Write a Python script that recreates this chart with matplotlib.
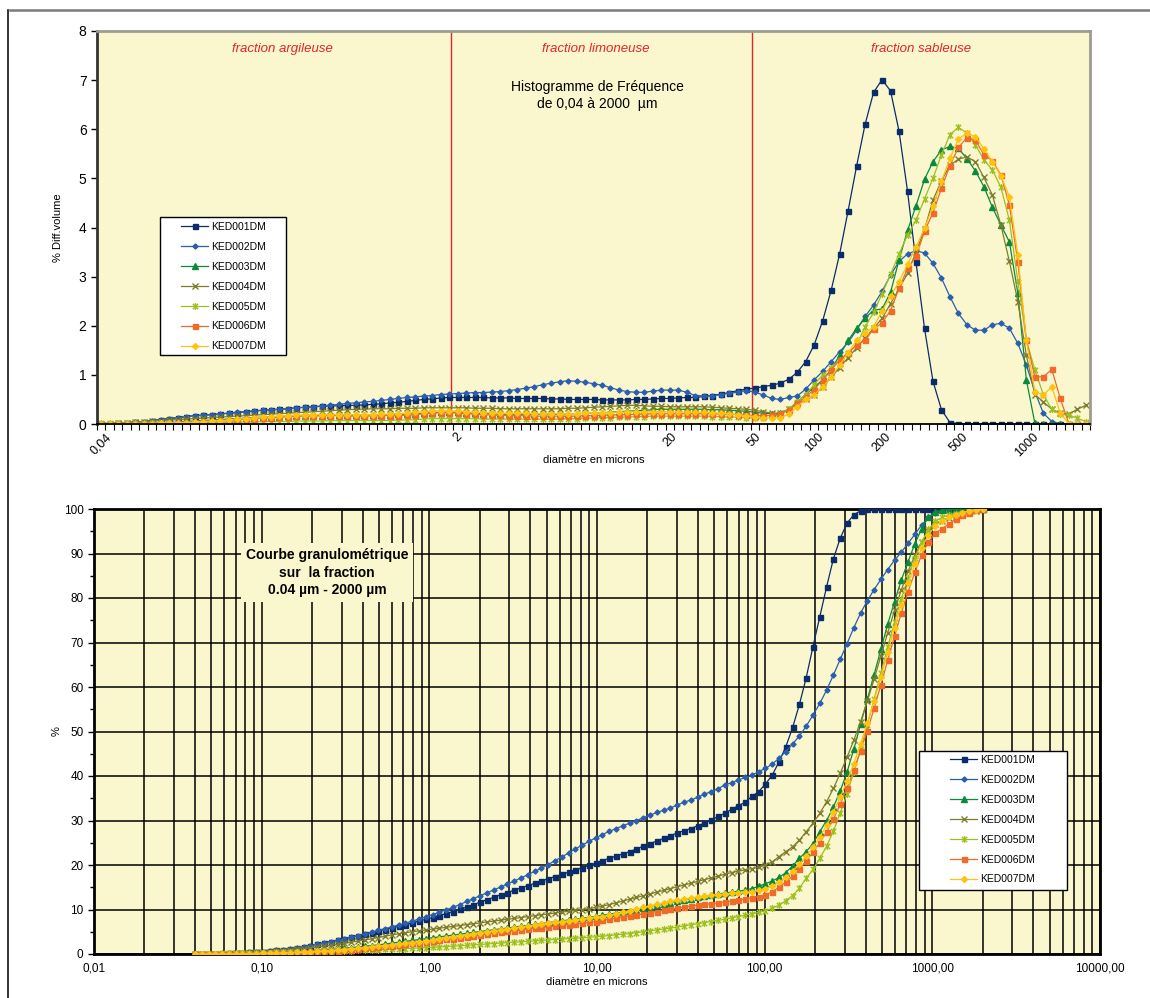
import numpy as np
import matplotlib
matplotlib.use('Agg')
import matplotlib.pyplot as plt
from matplotlib.path import Path
from matplotlib.lines import Line2D
from matplotlib.patches import Rectangle
from matplotlib.ticker import FixedLocator, NullFormatter, FuncFormatter, LogLocator

plt.rcParams['font.family'] = ['Liberation Sans', 'DejaVu Sans']

# 117 size classes of the laser granulometer, 0.04 -> 2000 microns (log spaced)
sizes_um = np.geomspace(0.04, 2000, 117)
categories = np.arange(117) + 0.5   # category positions on the top (Excel-like) axis

names = ['KED001DM', 'KED002DM', 'KED003DM', 'KED004DM', 'KED005DM', 'KED006DM', 'KED007DM']

# top chart: % differential volume per class
ked001_diff = [0.01, 0.01, 0.02, 0.03, 0.04, 0.05, 0.07, 0.09, 0.11, 0.13,
               0.15, 0.17, 0.18, 0.19, 0.20, 0.22, 0.23, 0.25, 0.26, 0.28,
               0.29, 0.30, 0.31, 0.33, 0.34, 0.35, 0.36, 0.37, 0.37, 0.38,
               0.38, 0.39, 0.40, 0.41, 0.43, 0.44, 0.46, 0.48, 0.50, 0.51,
               0.53, 0.54, 0.54, 0.54, 0.54, 0.54, 0.53, 0.53, 0.53, 0.52,
               0.52, 0.52, 0.52, 0.51, 0.51, 0.50, 0.50, 0.50, 0.50, 0.49,
               0.49, 0.49, 0.49, 0.50, 0.50, 0.51, 0.52, 0.52, 0.53, 0.54,
               0.54, 0.56, 0.58, 0.61, 0.64, 0.68, 0.71, 0.73, 0.76, 0.79,
               0.83, 0.91, 1.05, 1.27, 1.61, 2.10, 2.72, 3.46, 4.34, 5.25,
               6.10, 6.75, 7.01, 6.78, 5.96, 4.74, 3.29, 1.95, 0.87, 0.29,
               0.03, 0.01, 0, 0, 0, 0, 0, 0, 0, 0,
               0, 0, 0, 0, 0, 0, 0]
ked002_diff = [0.01, 0.01, 0.02, 0.03, 0.04, 0.05, 0.07, 0.09, 0.11, 0.13,
               0.15, 0.17, 0.18, 0.19, 0.21, 0.22, 0.24, 0.25, 0.27, 0.28,
               0.29, 0.30, 0.31, 0.33, 0.34, 0.35, 0.37, 0.38, 0.40, 0.42,
               0.43, 0.45, 0.46, 0.48, 0.50, 0.52, 0.54, 0.55, 0.57, 0.58,
               0.60, 0.61, 0.62, 0.63, 0.64, 0.64, 0.65, 0.66, 0.68, 0.70,
               0.73, 0.76, 0.80, 0.83, 0.86, 0.88, 0.87, 0.85, 0.82, 0.79,
               0.74, 0.69, 0.66, 0.645, 0.645, 0.67, 0.69, 0.69, 0.69, 0.645,
               0.58, 0.57, 0.57, 0.60, 0.625, 0.65, 0.68, 0.65, 0.59, 0.52,
               0.50, 0.54, 0.57, 0.71, 0.90, 1.07, 1.27, 1.47, 1.66, 1.91,
               2.19, 2.42, 2.70, 3.03, 3.31, 3.46, 3.53, 3.48, 3.27, 2.97,
               2.59, 2.25, 2.02, 1.91, 1.91, 2.02, 2.05, 1.95, 1.64, 1.20,
               0.66, 0.22, 0.05, 0.01, 0, 0, 0]
ked003_diff = [0, 0, 0, 0, 0.01, 0.01, 0.02, 0.03, 0.03, 0.04,
               0.05, 0.06, 0.07, 0.08, 0.09, 0.10, 0.11, 0.12, 0.13, 0.14,
               0.15, 0.15, 0.16, 0.16, 0.17, 0.17, 0.17, 0.18, 0.18, 0.18,
               0.18, 0.18, 0.19, 0.19, 0.19, 0.20, 0.20, 0.21, 0.22, 0.23,
               0.24, 0.24, 0.24, 0.23, 0.22, 0.21, 0.21, 0.20, 0.20, 0.20,
               0.20, 0.20, 0.20, 0.20, 0.20, 0.21, 0.21, 0.22, 0.22, 0.23,
               0.24, 0.25, 0.26, 0.27, 0.28, 0.29, 0.30, 0.30, 0.30, 0.30,
               0.30, 0.30, 0.29, 0.29, 0.28, 0.27, 0.26, 0.24, 0.22, 0.21,
               0.22, 0.30, 0.45, 0.60, 0.75, 0.90, 1.10, 1.40, 1.70, 1.95,
               2.15, 2.32, 2.34, 2.68, 3.34, 3.94, 4.44, 4.98, 5.34, 5.58,
               5.65, 5.61, 5.40, 5.15, 4.83, 4.41, 4.05, 3.71, 2.66, 0.90,
               0.02, 0, 0, 0, 0, 0, 0]
ked004_diff = [0.01, 0.01, 0.02, 0.03, 0.04, 0.05, 0.06, 0.07, 0.08, 0.09,
               0.10, 0.11, 0.12, 0.13, 0.14, 0.15, 0.16, 0.17, 0.18, 0.19,
               0.20, 0.21, 0.22, 0.23, 0.24, 0.25, 0.26, 0.27, 0.28, 0.29,
               0.30, 0.30, 0.31, 0.31, 0.31, 0.32, 0.32, 0.32, 0.33, 0.33,
               0.33, 0.33, 0.33, 0.33, 0.32, 0.32, 0.32, 0.31, 0.31, 0.31,
               0.31, 0.31, 0.31, 0.31, 0.31, 0.32, 0.32, 0.33, 0.34, 0.35,
               0.36, 0.37, 0.38, 0.38, 0.37, 0.36, 0.36, 0.35, 0.35, 0.35,
               0.35, 0.35, 0.34, 0.33, 0.32, 0.31, 0.30, 0.28, 0.25, 0.22,
               0.22, 0.30, 0.40, 0.50, 0.60, 0.75, 0.95, 1.15, 1.35, 1.55,
               1.75, 1.95, 2.15, 2.45, 2.75, 3.07, 3.50, 3.96, 4.56, 4.95,
               5.27, 5.39, 5.44, 5.34, 5.02, 4.66, 4.05, 3.31, 2.49, 1.40,
               0.60, 0.45, 0.30, 0.22, 0.20, 0.30, 0.38]
ked005_diff = [0.02, 0.02, 0.02, 0.02, 0.02, 0.02, 0.02, 0.02, 0.02, 0.02,
               0.02, 0.02, 0.03, 0.03, 0.03, 0.03, 0.04, 0.04, 0.04, 0.05,
               0.05, 0.05, 0.05, 0.06, 0.06, 0.06, 0.06, 0.07, 0.07, 0.07,
               0.07, 0.07, 0.07, 0.07, 0.07, 0.08, 0.08, 0.09, 0.10, 0.11,
               0.11, 0.11, 0.11, 0.11, 0.11, 0.10, 0.10, 0.10, 0.10, 0.10,
               0.10, 0.10, 0.10, 0.10, 0.10, 0.11, 0.11, 0.12, 0.12, 0.13,
               0.13, 0.14, 0.14, 0.15, 0.15, 0.16, 0.16, 0.16, 0.16, 0.16,
               0.16, 0.16, 0.15, 0.15, 0.14, 0.14, 0.13, 0.12, 0.12, 0.14,
               0.20, 0.30, 0.45, 0.60, 0.80, 1.00, 1.15, 1.30, 1.45, 1.61,
               1.98, 2.27, 2.65, 3.05, 3.46, 3.85, 4.15, 4.58, 5.00, 5.48,
               5.89, 6.04, 5.92, 5.68, 5.38, 5.17, 4.82, 4.15, 2.90, 1.71,
               1.10, 0.60, 0.30, 0.20, 0.18, 0.12, 0.05]
ked006_diff = [0.0, 0.0, 0.0, 0.0, 0.0, 0.0, 0.01, 0.01, 0.01, 0.02,
               0.02, 0.03, 0.04, 0.05, 0.06, 0.07, 0.08, 0.10, 0.11, 0.12,
               0.13, 0.14, 0.15, 0.16, 0.17, 0.17, 0.17, 0.17, 0.17, 0.16,
               0.16, 0.16, 0.16, 0.17, 0.17, 0.17, 0.18, 0.19, 0.21, 0.22,
               0.23, 0.23, 0.22, 0.21, 0.20, 0.19, 0.18, 0.18, 0.17, 0.17,
               0.17, 0.16, 0.16, 0.16, 0.16, 0.16, 0.16, 0.17, 0.17, 0.18,
               0.18, 0.19, 0.19, 0.20, 0.20, 0.21, 0.21, 0.21, 0.21, 0.21,
               0.21, 0.21, 0.21, 0.20, 0.20, 0.19, 0.18, 0.17, 0.17, 0.18,
               0.20, 0.28, 0.42, 0.55, 0.70, 0.90, 1.10, 1.30, 1.45, 1.60,
               1.71, 1.93, 2.06, 2.31, 2.76, 3.17, 3.41, 3.92, 4.30, 4.80,
               5.26, 5.63, 5.83, 5.78, 5.48, 5.36, 5.07, 4.46, 3.29, 1.71,
               0.96, 0.96, 1.11, 0.52, 0.01, 0.0, 0.0]
ked007_diff = [0.0, 0.0, 0.0, 0.0, 0.01, 0.01, 0.01, 0.02, 0.02, 0.03,
               0.03, 0.04, 0.05, 0.06, 0.07, 0.08, 0.10, 0.11, 0.12, 0.14,
               0.15, 0.16, 0.17, 0.18, 0.18, 0.19, 0.19, 0.19, 0.19, 0.19,
               0.19, 0.19, 0.19, 0.20, 0.20, 0.21, 0.22, 0.24, 0.25, 0.26,
               0.27, 0.27, 0.26, 0.25, 0.24, 0.23, 0.23, 0.22, 0.22, 0.22,
               0.22, 0.21, 0.21, 0.21, 0.21, 0.21, 0.21, 0.22, 0.22, 0.23,
               0.23, 0.24, 0.24, 0.25, 0.25, 0.25, 0.25, 0.25, 0.25, 0.24,
               0.24, 0.24, 0.23, 0.22, 0.21, 0.19, 0.17, 0.15, 0.13, 0.13,
               0.13, 0.20, 0.35, 0.50, 0.60, 0.75, 0.95, 1.20, 1.45, 1.70,
               1.85, 1.98, 2.30, 2.60, 2.90, 3.25, 3.60, 3.99, 4.43, 4.94,
               5.41, 5.80, 5.92, 5.85, 5.60, 5.34, 5.05, 4.63, 3.44, 1.71,
               0.66, 0.59, 0.76, 0.22, 0.01, 0.0, 0.0]

# bottom chart: cumulative %
ked001_cum = [0.0, 0.0, 0.0, 0.05, 0.1, 0.15, 0.2, 0.3, 0.35, 0.45,
              0.55, 0.65, 0.8, 0.95, 1.15, 1.4, 1.65, 1.9, 2.2, 2.5,
              2.8, 3.1, 3.45, 3.75, 4.1, 4.45, 4.8, 5.15, 5.5, 5.85,
              6.2, 6.6, 7.0, 7.4, 7.8, 8.2, 8.65, 9.1, 9.55, 10.05,
              10.55, 11.1, 11.65, 12.2, 12.75, 13.3, 13.8, 14.35, 14.85, 15.35,
              15.9, 16.4, 16.9, 17.4, 17.9, 18.4, 18.9, 19.4, 19.9, 20.45,
              21.0, 21.5, 22.0, 22.5, 23.0, 23.6, 24.2, 24.8, 25.4, 26.0,
              26.6, 27.2, 27.7, 28.2, 28.8, 29.4, 30.1, 30.9, 31.6, 32.5,
              33.3, 34.1, 35.4, 36.5, 38.2, 40.2, 43.2, 46.6, 50.9, 56.1,
              62.1, 69.1, 75.8, 82.5, 88.8, 93.4, 96.8, 98.7, 99.6, 99.9,
              100, 100, 100, 100, 100, 100, 100, 100, 100, 100,
              100, 100, 100, 100, 100, 100, 100]
ked002_cum = [0.0, 0.0, 0.0, 0.05, 0.1, 0.15, 0.2, 0.3, 0.35, 0.45,
              0.55, 0.65, 0.8, 0.95, 1.15, 1.4, 1.65, 1.9, 2.2, 2.5,
              2.8, 3.1, 3.45, 3.8, 4.15, 4.5, 4.9, 5.3, 5.7, 6.1,
              6.5, 6.95, 7.4, 7.85, 8.35, 8.85, 9.4, 9.95, 10.5, 11.1,
              11.8, 12.45, 13.1, 13.75, 14.4, 15.05, 15.7, 16.4, 17.1, 17.8,
              18.55, 19.3, 20.1, 20.95, 21.8, 22.7, 23.6, 24.45, 25.3, 26.1,
              26.85, 27.55, 28.2, 28.8, 29.4, 30.0, 30.6, 31.2, 31.8, 32.3,
              32.8, 33.5, 34.1, 34.6, 35.2, 35.9, 36.5, 37.1, 38.0, 38.5,
              39.1, 39.7, 40.2, 41.0, 41.7, 42.7, 44.0, 45.5, 47.2, 49.0,
              51.2, 53.7, 56.3, 59.3, 62.7, 66.2, 69.7, 73.3, 76.6, 79.4,
              81.9, 84.2, 86.4, 88.5, 90.3, 92.3, 94.3, 96.4, 98.1, 99.2,
              99.6, 99.9, 100, 100, 100, 100, 100]
ked003_cum = [0, 0, 0, 0, 0, 0.02, 0.05, 0.08, 0.1, 0.13,
              0.17, 0.22, 0.28, 0.35, 0.42, 0.5, 0.6, 0.7, 0.8, 0.9,
              1.0, 1.15, 1.3, 1.45, 1.6, 1.75, 1.9, 2.05, 2.25, 2.45,
              2.65, 2.85, 3.05, 3.25, 3.45, 3.65, 3.85, 4.05, 4.25, 4.45,
              4.65, 4.85, 5.05, 5.25, 5.45, 5.65, 5.85, 6.05, 6.25, 6.45,
              6.65, 6.85, 7.05, 7.25, 7.45, 7.65, 7.85, 8.05, 8.25, 8.45,
              8.7, 8.95, 9.2, 9.45, 9.7, 10.0, 10.3, 10.6, 10.9, 11.2,
              11.5, 11.8, 12.1, 12.4, 12.7, 13.0, 13.2, 13.45, 13.7, 13.9,
              14.1, 14.35, 14.7, 15.2, 15.8, 16.4, 17.2, 18.3, 19.8, 21.5,
              23.0, 24.8, 27.5, 30.0, 33.0, 36.6, 40.8, 46.0, 51.6, 57.2,
              62.8, 68.5, 74.1, 79.2, 84.0, 88.2, 92.2, 95.6, 98.2, 99.4,
              99.7, 99.8, 99.9, 100, 100, 100, 100]
ked004_cum = [0, 0, 0, 0.02, 0.05, 0.1, 0.15, 0.2, 0.27, 0.35,
              0.45, 0.55, 0.65, 0.78, 0.9, 1.05, 1.2, 1.35, 1.55, 1.75,
              1.95, 2.15, 2.4, 2.65, 2.9, 3.15, 3.4, 3.7, 4.0, 4.3,
              4.55, 4.8, 5.0, 5.2, 5.4, 5.6, 5.8, 6.0, 6.2, 6.4,
              6.6, 6.8, 7.0, 7.2, 7.4, 7.6, 7.8, 8.0, 8.2, 8.4,
              8.6, 8.8, 9.0, 9.2, 9.4, 9.6, 9.8, 10.0, 10.2, 10.45,
              10.75, 11.1, 11.5, 11.9, 12.3, 12.7, 13.1, 13.5, 13.9, 14.3,
              14.7, 15.1, 15.5, 15.9, 16.3, 16.7, 17.1, 17.5, 17.9, 18.3,
              18.6, 18.9, 19.2, 19.5, 20.0, 20.7, 21.9, 23.0, 24.1, 25.6,
              27.5, 29.4, 31.6, 34.2, 37.2, 40.6, 44.2, 48.0, 52.2, 56.8,
              61.8, 67.0, 72.2, 77.2, 81.8, 86.0, 89.6, 92.6, 95.0, 96.6,
              97.4, 98.0, 98.4, 98.8, 99.1, 99.5, 99.9]
ked005_cum = [0, 0.03, 0.06, 0.09, 0.12, 0.15, 0.18, 0.21, 0.24, 0.27,
              0.3, 0.33, 0.36, 0.39, 0.42, 0.45, 0.48, 0.52, 0.56, 0.6,
              0.64, 0.68, 0.72, 0.77, 0.82, 0.87, 0.92, 0.98, 1.04, 1.1,
              1.16, 1.22, 1.29, 1.36, 1.43, 1.5, 1.58, 1.66, 1.75, 1.85,
              1.95, 2.05, 2.15, 2.25, 2.35, 2.45, 2.55, 2.65, 2.75, 2.85,
              2.95, 3.05, 3.15, 3.25, 3.35, 3.45, 3.55, 3.65, 3.75, 3.87,
              4.0, 4.15, 4.3, 4.45, 4.6, 4.8, 5.0, 5.2, 5.4, 5.6,
              5.8, 6.05, 6.3, 6.55, 6.8, 7.05, 7.3, 7.55, 7.8, 8.1,
              8.4, 8.7, 9.0, 9.35, 9.7, 10.3, 11.0, 12.0, 13.1, 14.8,
              17.0, 19.0, 21.5, 24.2, 27.6, 31.6, 36.0, 40.8, 46.0, 51.5,
              57.3, 63.2, 69.0, 74.6, 79.8, 84.6, 88.9, 92.6, 95.4, 97.2,
              98.1, 98.6, 98.9, 99.2, 99.5, 99.8, 100]
ked006_cum = [0, 0, 0, 0, 0, 0, 0.02, 0.04, 0.06, 0.08,
              0.1, 0.13, 0.16, 0.2, 0.25, 0.3, 0.36, 0.43, 0.5, 0.58,
              0.67, 0.77, 0.88, 1.0, 1.13, 1.27, 1.42, 1.57, 1.72, 1.88,
              2.04, 2.2, 2.36, 2.52, 2.7, 2.88, 3.07, 3.27, 3.48, 3.7,
              3.92, 4.14, 4.35, 4.55, 4.74, 4.92, 5.1, 5.28, 5.45, 5.62,
              5.79, 5.95, 6.11, 6.27, 6.43, 6.6, 6.77, 6.94, 7.11, 7.29,
              7.55, 7.8, 8.05, 8.3, 8.55, 8.8, 9.05, 9.3, 9.55, 9.8,
              10.05, 10.3, 10.55, 10.75, 10.95, 11.15, 11.3, 11.5, 11.7, 11.9,
              12.1, 12.35, 12.6, 12.9, 13.3, 14.0, 15.0, 16.2, 17.5, 19.1,
              20.9, 22.9, 25.0, 27.4, 30.3, 33.6, 37.3, 41.3, 45.6, 50.2,
              55.2, 60.5, 66.0, 71.4, 76.6, 81.4, 85.8, 89.7, 92.6, 94.5,
              95.6, 96.6, 97.7, 98.6, 99.2, 99.7, 100]
ked007_cum = [0, 0, 0, 0, 0.01, 0.02, 0.04, 0.06, 0.08, 0.1,
              0.13, 0.16, 0.2, 0.25, 0.3, 0.36, 0.43, 0.5, 0.58, 0.67,
              0.77, 0.88, 1.0, 1.13, 1.27, 1.41, 1.56, 1.72, 1.88, 2.04,
              2.2, 2.37, 2.54, 2.72, 2.9, 3.1, 3.3, 3.52, 3.75, 3.99,
              4.24, 4.49, 4.74, 4.98, 5.21, 5.43, 5.65, 5.86, 6.07, 6.28,
              6.48, 6.68, 6.88, 7.08, 7.28, 7.48, 7.68, 7.88, 8.08, 8.3,
              8.4, 8.7, 9.05, 9.4, 9.75, 10.1, 10.45, 10.8, 11.15, 11.5,
              11.8, 12.1, 12.35, 12.6, 12.8, 13.0, 13.2, 13.35, 13.5, 13.65,
              13.75, 13.85, 14.0, 14.3, 14.7, 15.3, 16.1, 17.2, 18.6, 20.2,
              22.0, 24.0, 26.3, 28.9, 31.9, 35.2, 38.8, 42.8, 47.2, 51.9,
              56.9, 62.3, 67.8, 73.3, 78.5, 83.3, 87.6, 91.2, 94.2, 96.2,
              97.4, 98.1, 98.7, 99.2, 99.6, 99.8, 100]

diff_series = [ked001_diff, ked002_diff, ked003_diff, ked004_diff, ked005_diff, ked006_diff, ked007_diff]
cum_series = [ked001_cum, ked002_cum, ked003_cum, ked004_cum, ked005_cum, ked006_cum, ked007_cum]

top_tick_pos = [0.5, 42.5, 67.5, 77.5, 84.5, 92.5, 101.5, 109.5]
top_tick_lab = ['0,04', '2', '20', '50', '100', '200', '500', '1000']
fraction_limits = [41.7, 77.2]
bottom_ticks = [0.01, 0.1, 1, 10, 100, 1000, 10000]

# marker "star" like excel's : x with a vertical stroke
star = Path([(-1, -1), (1, 1), (-1, 1), (1, -1), (0, -1.3), (0, 1.3)],
            [Path.MOVETO, Path.LINETO, Path.MOVETO, Path.LINETO, Path.MOVETO, Path.LINETO])

styles = [
    dict(color='#0B2C6B', marker='s', ms=3.6, mfc='#0B2C6B', mec='#0B2C6B'),
    dict(color='#2B5EAE', marker='D', ms=2.6, mfc='#2B5EAE', mec='#2B5EAE'),
    dict(color='#0B8A3C', marker='^', ms=3.8, mfc='#0B8A3C', mec='#0B8A3C'),
    dict(color='#7F7D2C', marker='x', ms=4.6, mew=1.0, mec='#7F7D2C'),
    dict(color='#9DC01E', marker=star, ms=5.0, mew=1.0, mfc='none', mec='#9DC01E'),
    dict(color='#F06A28', marker='s', ms=3.6, mfc='#F06A28', mec='#F06A28'),
    dict(color='#FFC20E', marker='D', ms=3.0, mfc='#FFC20E', mec='#FFC20E'),
]

bg = '#FAF7CF'
red = '#E5232B'

fig = plt.figure(figsize=(11.5, 9.98), dpi=100)
fig.patch.set_facecolor('white')

# frame of the pasted object
fig.add_artist(Line2D([10 / 1150, 1.0], [1 - 10 / 998, 1 - 10 / 998], color='#7A7A7A', lw=1.8))
fig.add_artist(Line2D([8 / 1150, 8 / 1150], [0, 1 - 10 / 998], color='#111111', lw=1.2))


def boxed_legend(ax, box, anchor):
    # white legend box drawn by hand (Excel style, wide side margins)
    ax.add_patch(Rectangle(box[:2], box[2], box[3], transform=ax.transAxes, facecolor='white',
                           edgecolor='black', lw=1.0, zorder=6))
    leg = ax.legend(loc='upper left', bbox_to_anchor=anchor, fontsize=7.5, frameon=False,
                    handlelength=2.6, labelspacing=0.95, borderpad=0, handletextpad=0.3,
                    borderaxespad=0)
    leg.set_zorder(7)
    return leg


# ---------------- top: frequency histogram ----------------
ax1 = fig.add_axes([97 / 1150, 1 - 424 / 998, 993 / 1150, 393 / 998])
ax1.set_facecolor(bg)
for vals, name, st in zip(diff_series, names, styles):
    ax1.plot(categories, vals, lw=0.9, label=name, **st)

ax1.set_xlim(0, 117)
ax1.set_ylim(0, 8)
ax1.set_yticks(range(0, 9))
ax1.tick_params(axis='y', labelsize=10, length=4, width=1, direction='out')
ax1.xaxis.set_major_locator(FixedLocator(top_tick_pos))
ax1.set_xticklabels(top_tick_lab, rotation=45, fontsize=9)
ax1.xaxis.set_minor_locator(FixedLocator(np.arange(0, 118)))
ax1.tick_params(axis='x', which='major', length=0, pad=5)
ax1.tick_params(axis='x', which='minor', length=4, width=0.8, direction='out')

for s in ['top', 'right']:
    ax1.spines[s].set_color('#9C9C90')
    ax1.spines[s].set_linewidth(2)
ax1.spines['left'].set_color('#333333')
ax1.spines['left'].set_linewidth(2)
ax1.spines['bottom'].set_color('black')
ax1.spines['bottom'].set_linewidth(1.3)

for xl in fraction_limits:
    ax1.axvline(xl, color=red, lw=1.0, zorder=1)

ax1.text(0.187, 0.955, 'fraction argileuse', transform=ax1.transAxes, color=red,
         style='italic', fontsize=9.5, ha='center', va='center')
ax1.text(0.5025, 0.955, 'fraction limoneuse', transform=ax1.transAxes, color=red,
         style='italic', fontsize=9.5, ha='center', va='center')
ax1.text(0.830, 0.955, 'fraction sableuse', transform=ax1.transAxes, color=red,
         style='italic', fontsize=9.5, ha='center', va='center')
ax1.text(0.5035, 0.835, 'Histogramme de Fréquence\nde 0,04 à 2000  µm', transform=ax1.transAxes,
         fontsize=10, ha='center', va='center', linespacing=1.25)

ax1.set_xlabel('diamètre en microns', fontsize=8)
ax1.xaxis.set_label_coords(0.5, -0.078)
ax1.set_ylabel('% Diff.volume', fontsize=8)
ax1.yaxis.set_label_coords(-0.034, 0.5)

boxed_legend(ax1, (0.0634, 0.1756, 0.1269, 0.3511), (0.0846, 0.514))

# ---------------- bottom: cumulative curve ----------------
ax2 = fig.add_axes([94 / 1150, 1 - 954 / 998, 1006 / 1150, 445 / 998])
ax2.set_facecolor(bg)
ax2.set_axisbelow(True)
for vals, name, st in zip(cum_series, names, styles):
    ax2.plot(sizes_um, vals, lw=0.9, label=name, zorder=3, **st)

ax2.set_xscale('log')
ax2.set_xlim(0.01, 10000)
ax2.set_ylim(0, 100)
ax2.xaxis.set_major_locator(FixedLocator(bottom_ticks))
ax2.xaxis.set_minor_locator(LogLocator(base=10, subs=np.arange(2, 10)))
ax2.xaxis.set_major_formatter(FuncFormatter(lambda v, p: ('%.2f' % v).replace('.', ',')))
ax2.xaxis.set_minor_formatter(NullFormatter())
ax2.set_yticks(range(0, 101, 10))
ax2.set_yticks(range(5, 100, 10), minor=True)
ax2.tick_params(axis='both', which='major', labelsize=8.5, length=4, width=1)
ax2.tick_params(axis='y', which='minor', length=3, width=1)
ax2.tick_params(axis='x', which='minor', length=0)
ax2.tick_params(axis='x', which='major', length=0, pad=6)
ax2.grid(True, which='both', axis='x', color='black', lw=1.1)
ax2.grid(True, which='major', axis='y', color='black', lw=1.1)
for s in ax2.spines.values():
    s.set_color('black')
    s.set_linewidth(2)

ax2.text(0.2316, 0.857, 'Courbe granulométrique\nsur  la fraction\n0.04 µm - 2000 µm', transform=ax2.transAxes,
         fontsize=10, fontweight='bold', ha='center', va='center', linespacing=1.3, zorder=4,
         bbox=dict(facecolor=bg, edgecolor='none', boxstyle='square,pad=0.35'))

ax2.set_xlabel('diamètre en microns', fontsize=8)
ax2.xaxis.set_label_coords(0.5, -0.052)
ax2.set_ylabel('%', fontsize=8)
ax2.yaxis.set_label_coords(-0.032, 0.5)

boxed_legend(ax2, (0.820, 0.1438, 0.1471, 0.3124), (0.851, 0.447))

fig.savefig('out.png', dpi=100, facecolor='white')
